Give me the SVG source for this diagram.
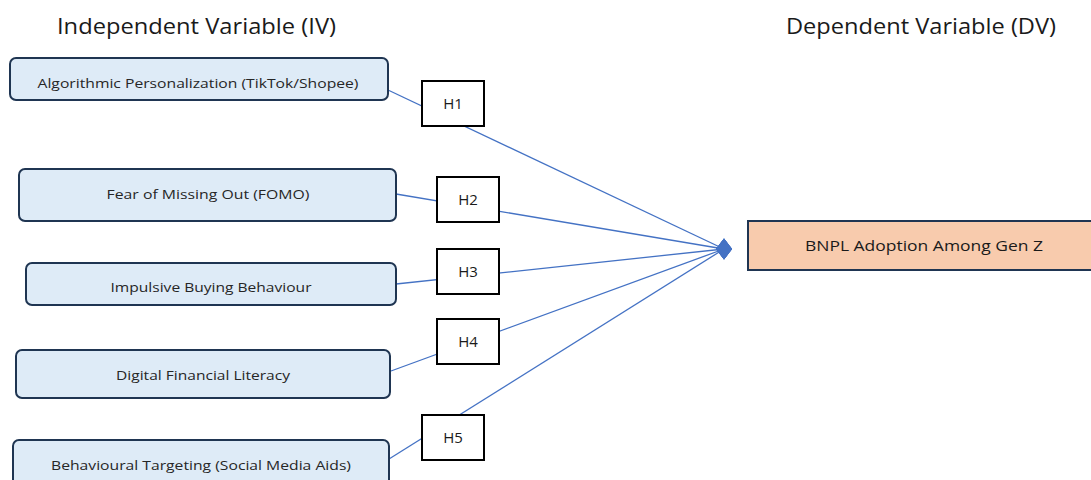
<svg xmlns="http://www.w3.org/2000/svg" width="1091" height="480" viewBox="0 0 1091 480">
<style>
.title{font-family:"Open Sans","Liberation Sans",sans-serif;font-size:21px;fill:#1a1a1a}
.iv{fill:#deebf7;stroke:#1f3552;stroke-width:2}
.dv{fill:#f8cbad;stroke:#1f3552;stroke-width:2}
.h{fill:#ffffff;stroke:#000000;stroke-width:2}
.t{font-family:"Open Sans","Liberation Sans",sans-serif;font-size:13px;fill:#262626;text-anchor:middle}
.ht{font-family:"Open Sans","Liberation Sans",sans-serif;font-size:15px;fill:#1a1a1a;text-anchor:middle}
.dt{font-family:"Open Sans","Liberation Sans",sans-serif;font-size:15px;fill:#1a1a1a;text-anchor:middle}
.c{stroke:#4472c4;stroke-width:1.3;fill:none}
</style>
<defs>
<marker id="dia" viewBox="-9 -12 18 24" refX="0" refY="0" markerWidth="18" markerHeight="24" markerUnits="userSpaceOnUse" orient="0">
<path d="M-8,0 L0,-10.5 L8,0 L0,10.5 Z" fill="#4472c4"/>
</marker>
</defs>
<text class="title" x="57" y="34" textLength="279" lengthAdjust="spacingAndGlyphs">Independent Variable (IV)</text>
<text class="title" x="786" y="34" textLength="270" lengthAdjust="spacingAndGlyphs">Dependent Variable (DV)</text>
<g id="connectors">
<line class="c" x1="388" y1="90" x2="724" y2="249" marker-end="url(#dia)"/>
<line class="c" x1="396" y1="194" x2="724" y2="249" marker-end="url(#dia)"/>
<line class="c" x1="396" y1="284" x2="724" y2="249" marker-end="url(#dia)"/>
<line class="c" x1="391" y1="371" x2="724" y2="249" marker-end="url(#dia)"/>
<line class="c" x1="389" y1="459" x2="724" y2="249" marker-end="url(#dia)"/>
</g>
<g id="iv1"><rect class="iv" x="10" y="58" width="378" height="42" rx="6"/><text class="t" x="198" y="88" textLength="321" lengthAdjust="spacingAndGlyphs">Algorithmic Personalization (TikTok/Shopee)</text></g>
<g id="iv2"><rect class="iv" x="19" y="169" width="377" height="52" rx="6"/><text class="t" x="208" y="199" textLength="203" lengthAdjust="spacingAndGlyphs">Fear of Missing Out (FOMO)</text></g>
<g id="iv3"><rect class="iv" x="26" y="263" width="370" height="42" rx="6"/><text class="t" x="211" y="292" textLength="201" lengthAdjust="spacingAndGlyphs">Impulsive Buying Behaviour</text></g>
<g id="iv4"><rect class="iv" x="16" y="350" width="374" height="48" rx="6"/><text class="t" x="203" y="380" textLength="174" lengthAdjust="spacingAndGlyphs">Digital Financial Literacy</text></g>
<g id="iv5"><rect class="iv" x="13" y="440" width="376" height="52" rx="6"/><text class="t" x="201" y="470" textLength="300" lengthAdjust="spacingAndGlyphs">Behavioural Targeting (Social Media Aids)</text></g>
<g id="h1"><rect class="h" x="422" y="81" width="62" height="45"/><text class="ht" x="453" y="109">H1</text></g>
<g id="h2"><rect class="h" x="437" y="177" width="62" height="45"/><text class="ht" x="468" y="205">H2</text></g>
<g id="h3"><rect class="h" x="437" y="249" width="62" height="45"/><text class="ht" x="468" y="277">H3</text></g>
<g id="h4"><rect class="h" x="437" y="319" width="62" height="45"/><text class="ht" x="468" y="347">H4</text></g>
<g id="h5"><rect class="h" x="422" y="415" width="62" height="45"/><text class="ht" x="453" y="443">H5</text></g>
<g id="dv"><rect class="dv" x="748" y="221" width="350" height="49"/><text class="dt" x="924" y="251" textLength="238" lengthAdjust="spacingAndGlyphs">BNPL Adoption Among Gen Z</text></g>
</svg>
